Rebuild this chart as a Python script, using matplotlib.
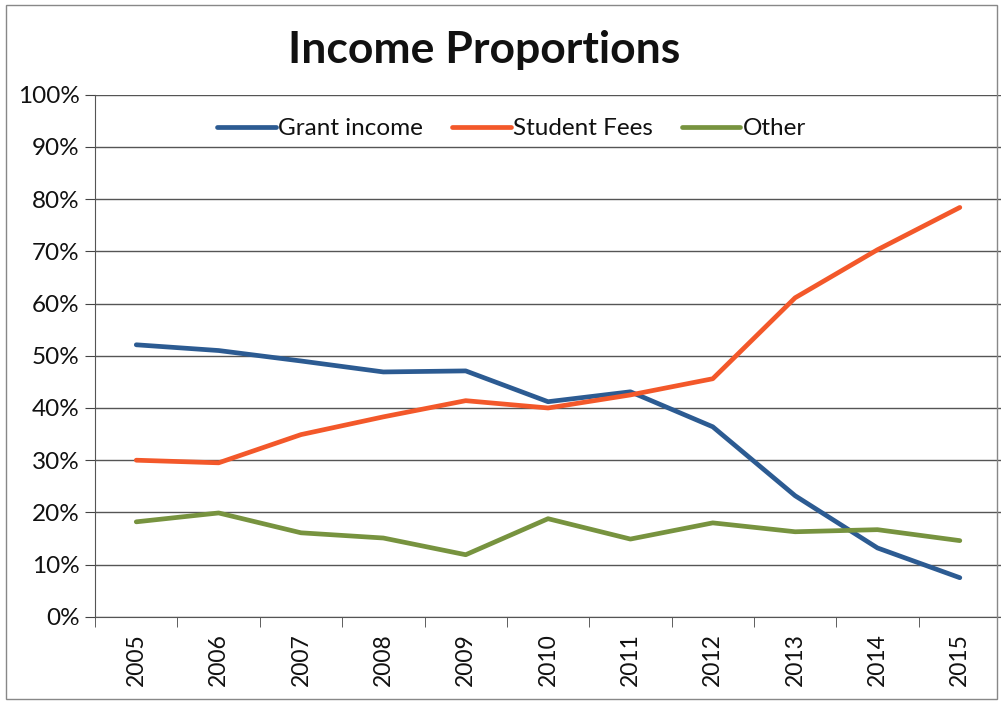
import matplotlib.pyplot as plt
from matplotlib.patches import Rectangle
from matplotlib.ticker import FuncFormatter

# Income shares by year (percent)
years = ["2005", "2006", "2007", "2008", "2009", "2010",
         "2011", "2012", "2013", "2014", "2015"]
grant_income = [52.1, 51.0, 49.0, 46.9, 47.1, 41.2, 43.1, 36.4, 23.2, 13.2, 7.5]
student_fees = [30.0, 29.5, 34.9, 38.3, 41.4, 40.0, 42.5, 45.6, 61.1, 70.3, 78.4]
other = [18.2, 19.9, 16.1, 15.1, 11.9, 18.8, 14.9, 18.0, 16.3, 16.7, 14.6]

plt.rcParams['font.family'] = ['Lato', 'DejaVu Sans']

fig = plt.figure(figsize=(10.01, 7.01), dpi=100)
ax = fig.add_axes([0.095, 0.12, 0.905, 0.745])

x = range(len(years))
ax.plot(x, grant_income, color='#2C5B92', lw=3.4, label='Grant income', solid_capstyle='round')
ax.plot(x, student_fees, color='#F3582A', lw=3.4, label='Student Fees', solid_capstyle='round')
ax.plot(x, other, color='#77933F', lw=3.4, label='Other', solid_capstyle='round')

ax.set_xlim(-0.5, 10.5)
ax.set_ylim(0, 100)
ax.set_yticks(range(0, 101, 10))
ax.yaxis.set_major_formatter(FuncFormatter(lambda v, p: f"{int(v)}%"))
ax.set_xticks(list(x))
ax.set_xticklabels(years, rotation=90)
# tick marks sit between categories, labels at the centres
ax.set_xticks([i - 0.5 for i in range(len(years) + 1)], minor=True)
ax.tick_params(axis='x', which='major', length=0, labelsize=16.5, pad=12, labelcolor='#111111')
ax.tick_params(axis='x', which='minor', length=7, color='#444444')
ax.tick_params(axis='y', length=7, color='#444444', labelsize=17.5, pad=4, labelcolor='#111111')

ax.grid(axis='y', color='#555555', lw=1)
ax.set_axisbelow(True)
for side in ['top', 'right']:
    ax.spines[side].set_visible(False)
ax.spines['left'].set_color('#555555')
ax.spines['bottom'].set_color('#555555')

ax.legend(loc='upper center', bbox_to_anchor=(0.46, 0.997), ncol=3, frameon=False,
          fontsize=17.5, handlelength=2.4, handletextpad=0.1, columnspacing=1.2,
          labelcolor='#111111')

fig.text(0.484, 0.928, "Income Proportions", ha='center', va='center',
         fontsize=32, fontweight='bold', color='#111111')

# thin outline around the whole chart
fig.patches.append(Rectangle((0.006, 0.003), 0.99, 0.99, transform=fig.transFigure,
                             fill=False, ec='#888888', lw=1))

fig.savefig("out.png", dpi=100)
